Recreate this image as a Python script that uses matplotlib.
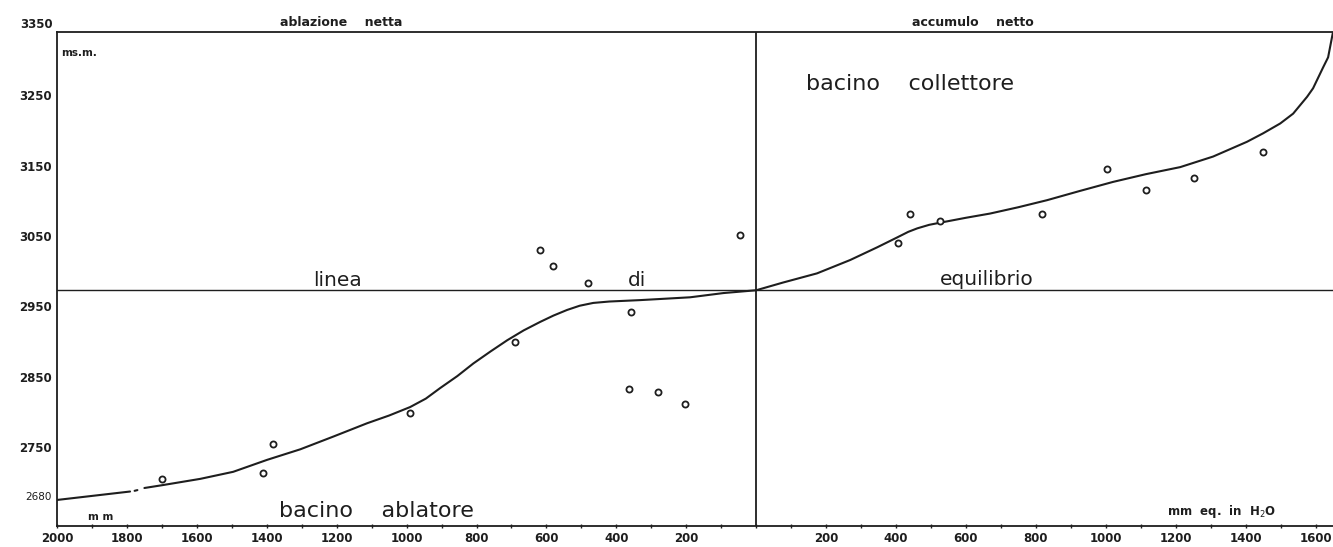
import numpy as np
import matplotlib
matplotlib.use("Agg")
import matplotlib.pyplot as plt

# ---- data ----
pts_x = [-1699, -1410, -1382, -990, -689, -618, -581, -481, -358, -363, -280, -203, -46,
         406, 440, 526, 818, 1004, 1116, 1253, 1450]
pts_y = [2705, 2714, 2754, 2798, 2899, 3030, 3007, 2984, 2942, 2832, 2828, 2811, 3051,
         3040, 3081, 3071, 3081, 3145, 3116, 3133, 3169]

curve_x = [-2000, -1791, np.nan, -1778, -1770, np.nan, -1750, -1699, -1590, -1496, -1399, -1304,
           -1210, -1113, -1050, -990, -945, -904, -855, -809, -760, -712, -665, -618, -580,
           -541, -505, -466, -420, -332, -260, -189, -94, 0,
           77, 174, 269, 346, 403, 435, 461, 495, 526, 600, 669, 750, 832, 925, 1021, 1115,
           1213, 1307, 1404, 1450, 1499, 1536, 1576, 1593, 1622, 1636, 1650]
curve_y = [2675, 2687, np.nan, 2688, 2689, np.nan, 2692, 2696, 2705, 2715, 2732, 2747,
           2765, 2784, 2795, 2807, 2819, 2834, 2851, 2869, 2886, 2902, 2916, 2928, 2937,
           2945, 2951, 2955, 2957, 2959, 2961, 2963, 2969, 2973,
           2984, 2997, 3016, 3034, 3048, 3056, 3061, 3066, 3069, 3076, 3082, 3091, 3101, 3114, 3127, 3138,
           3148, 3163, 3184, 3196, 3210, 3224, 3248, 3260, 3290, 3304, 3340]

equilibrium = 2973
x_major = list(range(-2000, 1601, 200))
x_labels = [str(abs(v)) if v != 0 else "" for v in x_major]
y_ticks = [2680, 2750, 2850, 2950, 3050, 3150, 3250]
y_labels = ["2680", "2750", "2850", "2950", "3050", "3150", "3250"]
y_top_label = "3350"

W, H = 1333, 547
fig = plt.figure(figsize=(W / 100, H / 100), dpi=100)
ax = fig.add_axes([57 / W, 21 / H, (1333 - 57) / W, (526 - 32) / H])
ax.set_xlim(-2000, 1650)
ax.set_ylim(2638, 3340)

ink = "#1e1e1e"
for s in ["left", "bottom", "top"]:
    ax.spines[s].set_linewidth(1.3)
    ax.spines[s].set_color(ink)
ax.spines["right"].set_visible(False)

ax.axhline(equilibrium, color=ink, lw=1.0)
ax.axvline(0, color=ink, lw=1.3)

ax.plot(curve_x, curve_y, color=ink, lw=1.5, solid_capstyle="round", solid_joinstyle="round")
ax.plot(pts_x, pts_y, ls="none", marker="o", ms=4.4, mfc="white", mec=ink, mew=1.3)

ax.set_xticks(x_major)
ax.set_xticklabels(x_labels, fontsize=8.5, fontweight="bold", color=ink)
ax.set_xticks(list(range(-1900, 1650, 200)), minor=True)
ax.tick_params(axis="x", which="both", direction="inout", length=3, width=1, colors=ink, pad=3)

ax.set_yticks(y_ticks)
ax.set_yticklabels(y_labels, fontsize=8.5, fontweight="bold", color=ink)
ax.tick_params(axis="y", length=0, pad=4)
ax.get_yticklabels()[0].set_fontsize(7.5)
ax.get_yticklabels()[0].set_fontweight("normal")

def ft(px, py, s, **kw):
    fig.text(px / W, 1 - py / H, s, color=ink, **kw)

ft(53, 25, y_top_label, fontsize=8.5, fontweight="bold", ha="right", va="center")

ft(341, 22, "ablazione    netta", fontsize=9, fontweight="bold", ha="center", va="center")
ft(973, 22, "accumulo    netto", fontsize=9, fontweight="bold", ha="center", va="center")
ft(61, 53, "ms.m.", fontsize=7.5, fontweight="bold", ha="left", va="center")
ft(101, 517, "m m", fontsize=7.5, fontweight="bold", ha="center", va="center")
ft(1222, 512, "mm  eq.  in  H$_{2}$O", fontsize=8.5, fontweight="bold", ha="center", va="center")

ft(910, 90, "bacino    collettore", fontsize=16, ha="center", va="baseline")
ft(376, 517, "bacino    ablatore", fontsize=16, ha="center", va="baseline")
ft(338, 286, "linea", fontsize=14.5, ha="center", va="baseline")
ft(637, 286, "di", fontsize=14.5, ha="center", va="baseline")
ft(987, 285, "equilibrio", fontsize=14.5, ha="center", va="baseline")

fig.savefig("out.png", dpi=100, facecolor="white")
